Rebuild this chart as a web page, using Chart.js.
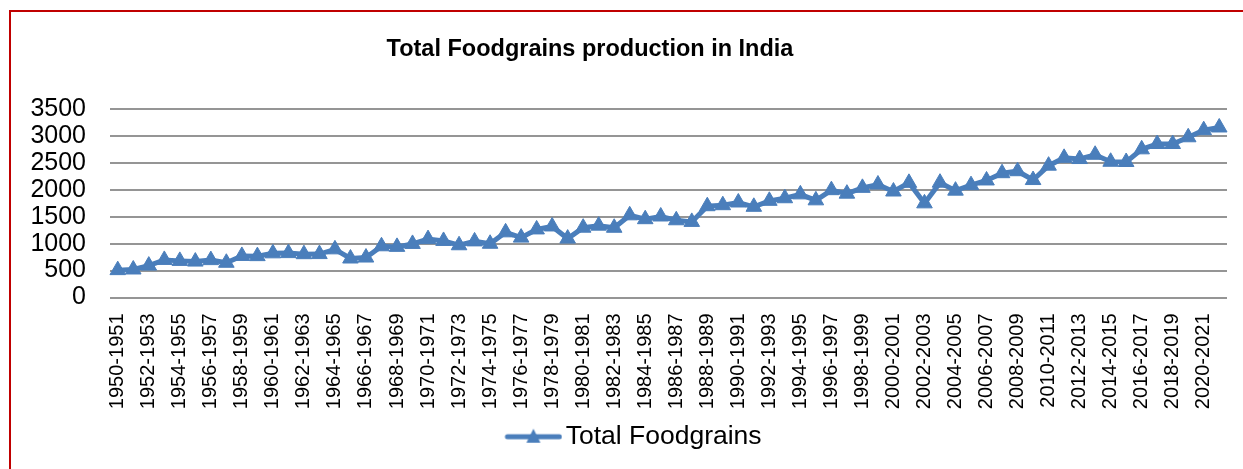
<!DOCTYPE html>
<html lang="en">
<head>
<meta charset="UTF-8" />
<title>Total Foodgrains production in India</title>
<script src="https://cdn.jsdelivr.net/npm/chart.js"></script>
<style>
  body { margin: 0; background: #fff; font-family: 'Liberation Sans', Arial, sans-serif; }
  .wrap { position: relative; width: 1243px; height: 469px; overflow: hidden; }
  .frame {
    position: absolute; left: 9px; top: 10px; right: -5px; bottom: -5px;
    border-top: 2px solid #c00000; border-left: 2px solid #c00000;
    pointer-events: none;
  }
  h1 {
    position: absolute; left: 0; top: 34px; width: 1180px; margin: 0;
    text-align: center; font-size: 23.5px; line-height: 28px; font-weight: bold; color: #000;
  }
  .chart-box { position: absolute; left: 0; top: 0; width: 1243px; height: 469px; }
</style>
</head>
<body>
<div class="wrap">
  <div class="chart-box"><canvas id="foodChart"></canvas></div>
  <h1>Total Foodgrains production in India</h1>
  <div class="frame"></div>
</div>

<script>
const years = [
  '1950-1951', '1951-1952', '1952-1953', '1953-1954', '1954-1955', '1955-1956',
  '1956-1957', '1957-1958', '1958-1959', '1959-1960', '1960-1961', '1961-1962',
  '1962-1963', '1963-1964', '1964-1965', '1965-1966', '1966-1967', '1967-1968',
  '1968-1969', '1969-1970', '1970-1971', '1971-1972', '1972-1973', '1973-1974',
  '1974-1975', '1975-1976', '1976-1977', '1977-1978', '1978-1979', '1979-1980',
  '1980-1981', '1981-1982', '1982-1983', '1983-1984', '1984-1985', '1985-1986',
  '1986-1987', '1987-1988', '1988-1989', '1989-1990', '1990-1991', '1991-1992',
  '1992-1993', '1993-1994', '1994-1995', '1995-1996', '1996-1997', '1997-1998',
  '1998-1999', '1999-2000', '2000-2001', '2001-2002', '2002-2003', '2003-2004',
  '2004-2005', '2005-2006', '2006-2007', '2007-2008', '2008-2009', '2009-2010',
  '2010-2011', '2011-2012', '2012-2013', '2013-2014', '2014-2015', '2015-2016',
  '2016-2017', '2017-2018', '2018-2019', '2019-2020', '2020-2021', '2021-2022'
];

// production, lakh tonnes
const totalFoodgrains = [
  508, 520, 592, 698, 680, 667, 694, 645, 772, 768, 820, 824,
  804, 806, 894, 724, 742, 951, 940, 995, 1084, 1050, 970, 1042,
  998, 1210, 1112, 1264, 1319, 1094, 1296, 1334, 1295, 1526, 1454, 1504,
  1434, 1404, 1695, 1714, 1764, 1684, 1795, 1843, 1915, 1804, 1993, 1928,
  2036, 2098, 1968, 2129, 1748, 2132, 1984, 2086, 2173, 2308, 2345, 2181,
  2448, 2593, 2571, 2650, 2520, 2516, 2751, 2850, 2850, 2975, 3107, 3157
];

const yMax = 3500;
const yStep = 500;

const blue = '#4a7ebb';

// legend swatch: line with triangle marker, like excel
// drawn on the right part of a wider canvas so it sits close to the text
function legendSwatch() {
  const c = document.createElement('canvas');
  c.width = 87; c.height = 20;
  const g = c.getContext('2d');
  g.strokeStyle = blue; g.lineWidth = 5; g.lineCap = 'round';
  g.beginPath(); g.moveTo(32, 10); g.lineTo(84, 10); g.stroke();
  g.fillStyle = blue;
  g.beginPath(); g.moveTo(58, 2); g.lineTo(65, 16); g.lineTo(51, 16); g.closePath(); g.fill();
  return c;
}

Chart.defaults.font.family = "'Liberation Sans', Arial, sans-serif";
Chart.defaults.color = '#000';

new Chart(document.getElementById('foodChart'), {
  type: 'line',
  data: {
    labels: years,
    datasets: [{
      label: 'Total Foodgrains',
      data: totalFoodgrains,
      borderColor: blue,
      backgroundColor: blue,
      borderWidth: 5,
      tension: 0,
      pointStyle: 'triangle',
      pointRadius: 9,
      pointBorderWidth: 1,
      pointBorderColor: blue,
      pointBackgroundColor: blue
    }]
  },
  options: {
    responsive: true,
    maintainAspectRatio: false,
    animation: false,
    layout: { padding: { left: 20, right: 16, top: 109, bottom: 9 } },
    plugins: {
      title: { display: false },
      tooltip: { enabled: false },
      legend: {
        position: 'bottom',
        labels: {
          usePointStyle: true,
          pointStyleWidth: 67,
          padding: 10,
          font: { size: 26.5 },
          color: '#000',
          generateLabels: chart => [{
            text: chart.data.datasets[0].label,
            pointStyle: legendSwatch(),
            fillStyle: blue,
            strokeStyle: blue,
            lineWidth: 0,
            datasetIndex: 0
          }]
        }
      }
    },
    scales: {
      x: {
        offset: true,
        grid: { display: false },
        border: { display: false },
        ticks: {
          autoSkip: false,
          maxRotation: 90,
          minRotation: 90,
          padding: 8,
          font: { size: 20 },
          color: '#000',
          callback: function (v, i) { return i % 2 === 0 ? this.getLabelForValue(v) : ''; }
        },
        afterFit: s => {
          s.height = 116;
          s.paddingLeft = 0;
          s.paddingRight = 0;
        }
      },
      y: {
        min: 0,
        max: yMax,
        grid: { color: '#959595', lineWidth: 2, drawTicks: false },
        border: { display: false },
        ticks: {
          stepSize: yStep,
          autoSkip: false,
          padding: 24,
          font: { size: 25 },
          color: '#000',
          callback: v => String(v)
        },
        afterFit: s => { s.width = 90; }
      }
    }
  }
});
</script>
</body>
</html>
